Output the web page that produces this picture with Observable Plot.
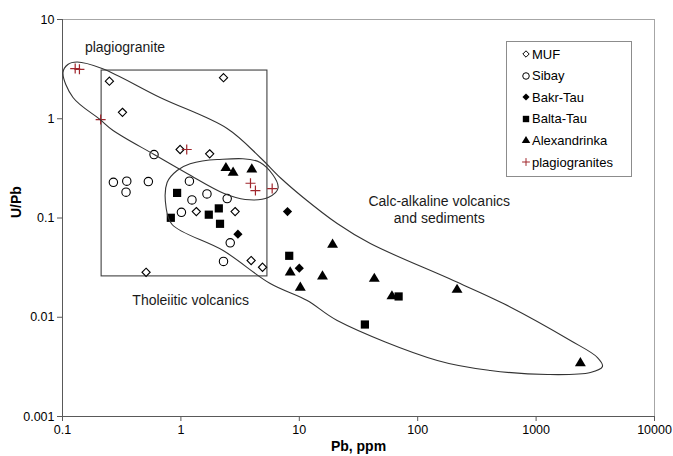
<!DOCTYPE html>
<html><head><meta charset="utf-8">
<script src="https://cdn.jsdelivr.net/npm/d3@7"></script>
<script src="https://cdn.jsdelivr.net/npm/@observablehq/plot@0.6"></script>
<style>
body{margin:0;background:#fff;font-family:"Liberation Sans",Arial,sans-serif;}
#wrap{position:relative;width:673px;height:456px;}
#legend{position:absolute;left:506px;top:41px;width:126px;height:136px;border:1px solid #8c8c8c;background:#fff;box-sizing:border-box;}
.row{position:absolute;left:14px;height:16px;display:flex;align-items:center;font-size:13px;color:#000;white-space:nowrap;}
.row svg{margin-right:1px;overflow:visible}
</style></head><body><div id="wrap"></div>
<script>
// ---- data (Pb ppm, U/Pb) ----
const seriesNames = ["MUF","Sibay","Bakr-Tau","Balta-Tau","Alexandrinka","plagiogranites"];

const mufPb = [0.249, 2.29, 0.321, 0.985, 1.75, 1.35, 2.87, 3.92, 4.89, 0.508];
const mufU  = [2.39, 2.59, 1.16, 0.49, 0.443, 0.116, 0.116, 0.0373, 0.0319, 0.0284];

const sibayPb = [0.593, 0.269, 0.349, 0.344, 0.531, 1.18, 1.24, 1.66, 2.46, 1.01, 2.61, 2.29];
const sibayU  = [0.436, 0.229, 0.235, 0.182, 0.233, 0.235, 0.152, 0.175, 0.157, 0.114, 0.0562, 0.0365];

const bakrPb = [3.03, 7.95, 10.0];
const bakrU  = [0.0687, 0.116, 0.0312];

const baltaPb = [0.929, 0.822, 1.72, 2.09, 2.14, 8.22, 69, 35.8];
const baltaU  = [0.179, 0.1005, 0.108, 0.125, 0.0874, 0.0416, 0.0162, 0.00845];

const alexPb = [2.40, 2.76, 3.97, 19.1, 8.38, 15.7, 10.2, 43, 60.6, 215, 2366];
const alexU  = [0.325, 0.292, 0.315, 0.055, 0.0289, 0.0263, 0.0203, 0.0249, 0.0166, 0.0193, 0.00352];

const plagPb = [0.128, 0.139, 0.21, 1.12, 3.87, 4.26, 5.9];
const plagU  = [3.2, 3.15, 0.98, 0.49, 0.224, 0.189, 0.198];

// field outlines (Pb, U/Pb)
const fieldPb = [0.101,0.111,0.1326,0.2158,0.667,2.457,4.67,7.03,10.79,20.9,39.8,200,529,1949,3298,3634,2877,1246,411,146.5,20.9,11.66,5.68,2.274,0.8427,0.7498,0.7647,0.929,1.196,2.023,4.67,6.63,5.46,3.488,2.318,1.128,0.5935,0.2673,0.2075,0.1227];
const fieldU  = [2.92,3.52,3.73,3.21,1.637,0.798,0.407,0.25,0.161,0.088,0.0553,0.02346,0.01375,0.00583,0.00393,0.00319,0.002775,0.00265,0.00291,0.00367,0.00928,0.01475,0.02188,0.047,0.086,0.1276,0.228,0.301,0.3516,0.3886,0.3624,0.2029,0.161,0.1536,0.1765,0.2808,0.4364,0.7616,0.983,1.637];

const boxPb = [0.214, 5.38];
const boxU  = [0.0258, 3.06];

const noteText = ["plagiogranite", "Tholeiitic volcanics", "Calc-alkaline volcanics\nand sediments"];
const notePb = [0.337, 1.21, 152];
const noteU  = [5.35, 0.015, 0.123];

const xTicks = [0.1, 1, 10, 100, 1000, 10000];
const yTicks = [0.001, 0.01, 0.1, 1, 10];

// ---- symbols ----
const R = s => Math.sqrt(s / Math.PI);
const symDiamond = {draw(c, s){const r=R(s); c.moveTo(0,-r); c.lineTo(r,0); c.lineTo(0,r); c.lineTo(-r,0); c.closePath();}};
const symSquare = {draw(c, s){const r=R(s); c.moveTo(-r,-r); c.lineTo(r,-r); c.lineTo(r,r); c.lineTo(-r,r); c.closePath();}};
const symTri = {draw(c, s){const r=R(s); c.moveTo(0,-r); c.lineTo(r*1.05,r*0.75); c.lineTo(-r*1.05,r*0.75); c.closePath();}};
const symPlus = {draw(c, s){const r=R(s); c.moveTo(-r,0); c.lineTo(r,0); c.moveTo(0,-r); c.lineTo(0,r);}};
const symCircle = {draw(c, s){const r=R(s); c.moveTo(r,0); c.arc(0,0,r,0,2*Math.PI);}};

const red = "#a0262c";
const styles = [
  {sym: symDiamond, r: 4.1, fill: "#fff", stroke: "#000", sw: 1.1},
  {sym: symCircle,  r: 4.2, fill: "#fff", stroke: "#000", sw: 1.1},
  {sym: symDiamond, r: 4.6, fill: "#000", stroke: "none", sw: 0},
  {sym: symSquare,  r: 4.1, fill: "#000", stroke: "none", sw: 0},
  {sym: symTri,     r: 5.2, fill: "#000", stroke: "none", sw: 0},
  {sym: symPlus,    r: 5.0, fill: "none", stroke: red, sw: 1.2}
];

const zip = (a, b) => a.map((v, i) => ({pb: v, u: b[i]}));
const seriesData = [zip(mufPb,mufU), zip(sibayPb,sibayU), zip(bakrPb,bakrU), zip(baltaPb,baltaU), zip(alexPb,alexU), zip(plagPb,plagU)];
const field = zip(fieldPb, fieldU);
const notes = noteText.map((t,i)=>({t, pb: notePb[i], u: noteU[i]}));

const dotMarks = seriesData.map((d, i) => Plot.dot(d, {
  x: "pb", y: "u", symbol: styles[i].sym, r: styles[i].r,
  fill: styles[i].fill, stroke: styles[i].stroke, strokeWidth: styles[i].sw
}));

const chart = Plot.plot({
  width: 673, height: 456,
  marginLeft: 62, marginRight: 19, marginTop: 19, marginBottom: 40,
  style: {fontFamily: "'Liberation Sans', Arial, sans-serif", fontSize: "12.5px", color: "#000", background: "#fff"},
  x: {type: "log", domain: [0.1, 10000]},
  y: {type: "log", domain: [0.001, 10]},
  marks: [
    Plot.frame({stroke: "#a6a6a6"}),
    Plot.ruleX([0.1], {stroke: "#595959"}),
    Plot.ruleY([0.001], {stroke: "#595959"}),
    Plot.axisX({ticks: xTicks, tickFormat: d => String(d), tickSize: 5, tickPadding: 4, label: null, stroke: "#595959"}),
    Plot.axisY({ticks: yTicks, tickFormat: d => String(d), tickSize: 5, tickPadding: 3, label: null, stroke: "#595959"}),
    Plot.rect([0], {x1: () => boxPb[0], x2: () => boxPb[1], y1: () => boxU[0], y2: () => boxU[1], fill: "none", stroke: "#404040", strokeWidth: 1.1}),
    ...dotMarks,
    Plot.line(field, {x: "pb", y: "u", curve: "catmull-rom-closed", stroke: "#333", strokeWidth: 1.1}),
    Plot.text(notes, {x: "pb", y: "u", text: "t", fontSize: 14, lineHeight: 1.24, fill: "#1a1a1a"}),
    Plot.text(["Pb, ppm"], {frameAnchor: "bottom", dy: 34, fontWeight: "bold", fontSize: 14}),
    Plot.text(["U/Pb"], {frameAnchor: "left", dx: -46, rotate: -90, fontWeight: "bold", fontSize: 14})
  ]
});

const wrap = document.getElementById("wrap");
wrap.appendChild(chart);

// legend
const leg = document.createElement("div");
leg.id = "legend";
seriesNames.forEach((name, i) => {
  const row = document.createElement("div");
  row.className = "row";
  row.style.top = (4 + i * 21.6) + "px";
  const st = styles[i];
  const p = d3.path();
  st.sym.draw(p, Math.PI * (st.r * 0.78) ** 2);
  const svg = `<svg width="10" height="10" viewBox="-5 -5 10 10"><path d="${p.toString()}" fill="${st.fill}" stroke="${st.stroke}" stroke-width="${st.sw ? 1 : 0}"/></svg>`;
  row.innerHTML = svg + `<span>${name}</span>`;
  leg.appendChild(row);
});
wrap.appendChild(leg);
</script></body></html>
